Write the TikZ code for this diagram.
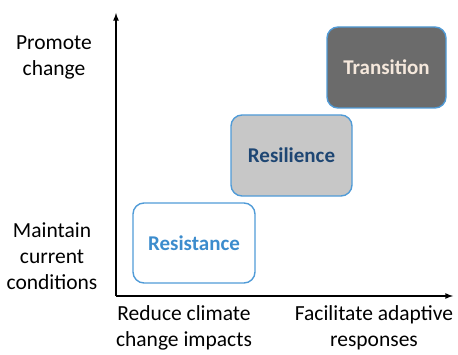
\documentclass[tikz,border=0pt]{standalone}
\usepackage{fontspec}
\setmainfont{Carlito}
\tikzset{>=latex}
\definecolor{boxblue}{RGB}{80,155,215}
\definecolor{resblue}{RGB}{60,140,205}
\definecolor{navy}{RGB}{30,70,115}
\colorlet{lightgray}{black!22}
\colorlet{darkgray}{black!58}
\definecolor{peach}{RGB}{245,232,220}
\tikzset{
  strategy/.style={draw=boxblue, line width=1.4pt, rounded corners=11pt,
                   font=\fontsize{21}{24}\selectfont\bfseries, align=center},
  axislabel/.style={font=\fontsize{21.5}{26}\selectfont, align=center}
}

\begin{document}
\begin{tikzpicture}[x=1pt,y=1pt]
  \useasboundingbox (0,0) rectangle (458,354);
  \coordinate (o) at (116,58); % origin
  \coordinate (ytop) at (116,341);
  \coordinate (xend) at (453,58);
  \draw[->,line width=1.6pt] (o) -- (ytop);
  \draw[->,line width=1.6pt] (o) -- (xend);
  \node[strategy, minimum width=122pt, minimum height=80pt, text=resblue] (resist) at (194,111) {Resistance};
  \node[strategy, minimum width=121pt, minimum height=81pt, fill=lightgray, text=navy] (resil) at (291.5,198.5) {Resilience};
  \node[strategy, minimum width=119pt, minimum height=81pt, fill=darkgray, text=peach] (trans) at (386.5,286.5) {Transition};
  \node[axislabel] (promote) at (54,297) {Promote\\change};
  \node[axislabel] (maintain) at (52,98) {Maintain\\current\\conditions};
  \node[axislabel] (reduce) at (184,26) {Reduce climate\\change impacts};
  \node[axislabel] (facilitate) at (374,26) {Facilitate adaptive\\responses};
\end{tikzpicture}
\end{document}
